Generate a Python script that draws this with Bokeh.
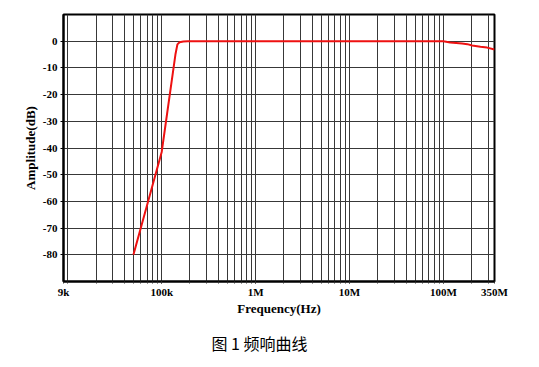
from bokeh.plotting import figure
from bokeh.models import FixedTicker, Title
from bokeh.embed import file_html
from bokeh.resources import INLINE

# ---- data ----
freq_hz = [50e3, 100e3, 140e3, 147e3, 155e3, 170e3, 190e3, 1e6, 10e6, 100e6,
           118e6, 158e6, 180e6, 202e6, 248e6, 292e6, 350e6]
amp_db = [-80, -41.5, -5.0, -1.2, -0.4, -0.1, 0.0, 0.0, 0.0, 0.0,
          -0.5, -0.9, -1.1, -1.6, -2.1, -2.4, -3.1]

y_ticks = [-80, -70, -60, -50, -40, -30, -20, -10, 0]
y_tick_labels = ["-80", "-70", "-60", "-50", "-40", "-30", "-20", "-10", "0"]
x_label_values = [9e3, 1e5, 1e6, 1e7, 1e8, 3.5e8]
x_label_texts = ["9k", "100k", "1M", "10M", "100M", "350M"]
grid_mantissas = [1, 2, 3, 4, 5, 6, 7, 8, 9]
grid_decades = [1e4, 1e5, 1e6, 1e7, 1e8]
grid_freqs = [m * d for d in grid_decades for m in grid_mantissas if m * d < 3.5e8]

SERIF = "Liberation Serif"

p = figure(width=539, height=367, x_axis_type="log",
           x_range=(9e3, 3.5e8), y_range=(-90, 10),
           output_backend="svg", toolbar_location=None,
           min_border_left=63, min_border_right=45,
           min_border_top=14, min_border_bottom=86,
           background_fill_color="white", border_fill_color="white")

p.outline_line_color = "black"
p.outline_line_width = 2

# x axis
p.xaxis.ticker = FixedTicker(ticks=x_label_values, minor_ticks=grid_freqs)
p.xaxis.major_label_overrides = {v: t for v, t in zip(x_label_values, x_label_texts)}
p.xaxis.major_tick_out = 2
p.xaxis.major_tick_in = 0
p.xaxis.minor_tick_out = 2
p.xaxis.minor_tick_in = 0
p.xaxis.major_tick_line_color = "#333333"
p.xaxis.minor_tick_line_color = "#333333"
p.xaxis.axis_line_color = "black"
p.xaxis.axis_line_width = 2
p.xaxis.major_label_standoff = 2
p.xaxis.major_label_text_font = SERIF
p.xaxis.major_label_text_font_style = "bold"
p.xaxis.major_label_text_font_size = "11px"
p.xaxis.major_label_text_color = "black"
p.xaxis.axis_label = "Frequency(Hz)"
p.xaxis.axis_label_text_font = SERIF
p.xaxis.axis_label_text_font_style = "bold"
p.xaxis.axis_label_text_font_size = "13px"
p.xaxis.axis_label_text_color = "black"
p.xaxis.axis_label_standoff = 0

# y axis
p.yaxis.ticker = FixedTicker(ticks=y_ticks)
p.yaxis.major_label_overrides = {v: t for v, t in zip(y_ticks, y_tick_labels)}
p.yaxis.major_tick_out = 3
p.yaxis.major_tick_in = 0
p.yaxis.minor_tick_line_color = None
p.yaxis.axis_line_color = "black"
p.yaxis.axis_line_width = 2
p.yaxis.major_label_standoff = 3
p.yaxis.major_label_text_font = SERIF
p.yaxis.major_label_text_font_style = "bold"
p.yaxis.major_label_text_font_size = "11px"
p.yaxis.major_label_text_color = "black"
p.yaxis.axis_label = "Amplitude(dB)"
p.yaxis.axis_label_text_font = SERIF
p.yaxis.axis_label_text_font_style = "bold"
p.yaxis.axis_label_text_font_size = "13px"
p.yaxis.axis_label_text_color = "black"
p.yaxis.axis_label_standoff = 2

# grids
p.xgrid.ticker = FixedTicker(ticks=grid_freqs)
p.ygrid.ticker = FixedTicker(ticks=y_ticks)
p.grid.grid_line_color = "#383838"
p.grid.grid_line_width = 1
p.grid.grid_line_alpha = 1.0

# curve
p.line(freq_hz, amp_db, line_color="#ee1111", line_width=2)

# caption below the chart
p.add_layout(Title(text="图 1 频响曲线", align="left", offset=148,
                   standoff=21, text_font="Noto Sans CJK SC",
                   text_font_size="16px", text_font_style="normal",
                   text_color="black"), "below")

open("out.html", "w").write(file_html(p, INLINE))
